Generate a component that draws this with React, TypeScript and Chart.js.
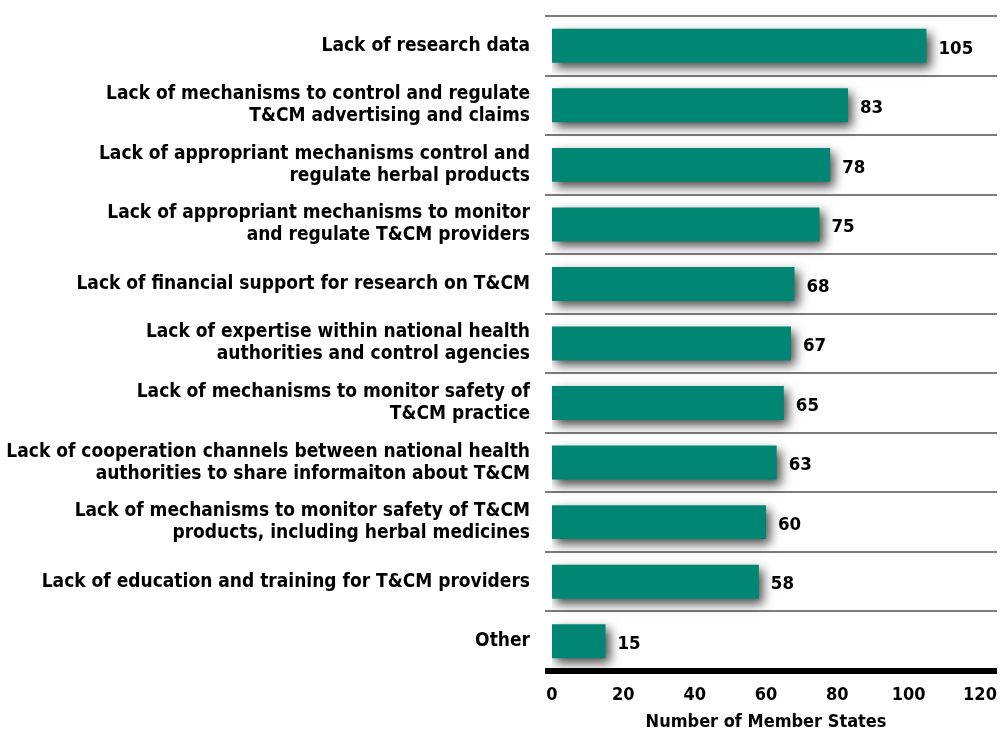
import React, { useEffect, useRef } from "react";
import { Chart, registerables } from "chart.js";

Chart.register(...registerables);

const categories: (string | string[])[] = [
  "Lack of research data",
  ["Lack of mechanisms to control and regulate", "T&CM advertising and claims"],
  ["Lack of appropriant mechanisms control and", "regulate herbal products"],
  ["Lack of appropriant mechanisms to monitor", "and regulate T&CM providers"],
  "Lack of financial support for research on T&CM",
  ["Lack of expertise within national health", "authorities and control agencies"],
  ["Lack of mechanisms to monitor safety of", "T&CM practice"],
  ["Lack of cooperation channels between national health", "authorities to share informaiton about T&CM"],
  ["Lack of mechanisms to monitor safety of T&CM", "products, including herbal medicines"],
  "Lack of education and training for T&CM providers",
  "Other",
];

const memberStates: number[] = [105, 83, 78, 75, 68, 67, 65, 63, 60, 58, 15];

const xTickMin = 0;
const xTickMax = 120;
const xTickStep = 20;

const axisTitle = "Number of Member States";

const FONT = "'Liberation Sans Narrow', 'DejaVu Sans Condensed', 'Liberation Sans', sans-serif";
const BAR_COLOR = "#008673";

function zeroPadding(scale: any) {
  scale.paddingLeft = 0;
  scale.paddingRight = 0;
  scale.paddingTop = 0;
  scale.paddingBottom = 0;
}

const decorPlugin = {
  id: "decor",
  beforeDatasetsDraw(chart: any) {
    const { ctx, chartArea, scales } = chart;
    const y = scales.y;
    const n = chart.data.labels.length;
    const step = n > 1 ? y.getPixelForValue(1) - y.getPixelForValue(0) : chartArea.bottom - chartArea.top;
    ctx.save();
    ctx.strokeStyle = "#7c7c7c";
    ctx.lineWidth = 2;
    for (let i = 0; i < n; i++) {
      const yy = Math.round(y.getPixelForValue(i) - step / 2);
      ctx.beginPath();
      ctx.moveTo(chartArea.left - 7, yy);
      ctx.lineTo(chartArea.right + 17, yy);
      ctx.stroke();
    }
    ctx.restore();
  },
  beforeDatasetDraw(chart: any) {
    const ctx = chart.ctx;
    ctx.save();
    ctx.shadowColor = "rgba(0,0,0,0.7)";
    ctx.shadowBlur = 10;
    ctx.shadowOffsetX = 4;
    ctx.shadowOffsetY = 5;
  },
  afterDatasetDraw(chart: any) {
    chart.ctx.restore();
  },
  afterDatasetsDraw(chart: any) {
    const { ctx, chartArea } = chart;
    ctx.save();
    ctx.fillStyle = "#000";
    ctx.fillRect(chartArea.left - 7, chartArea.bottom - 3, chartArea.right + 17 - (chartArea.left - 7), 6);
    const meta = chart.getDatasetMeta(0);
    const data = chart.data.datasets[0].data;
    ctx.font = `bold 18.5px ${FONT}`;
    ctx.textAlign = "left";
    ctx.textBaseline = "middle";
    meta.data.forEach((bar: any, i: number) => {
      ctx.fillText(String(data[i]), bar.x + 12, bar.y + 3);
    });
    ctx.restore();
  },
};

export default function App() {
  const canvasRef = useRef<HTMLCanvasElement | null>(null);

  useEffect(() => {
    if (!canvasRef.current) return;
    const chart = new Chart(canvasRef.current, {
      type: "bar",
      data: {
        labels: categories,
        datasets: [
          {
            data: memberStates,
            backgroundColor: BAR_COLOR,
            borderWidth: 0,
            categoryPercentage: 1,
            barPercentage: 0.57,
          },
        ],
      },
      options: {
        indexAxis: "y",
        responsive: false,
        animation: false,
        layout: { padding: { top: 16, right: 20, left: 0, bottom: 0 } },
        plugins: {
          legend: { display: false },
          tooltip: { enabled: false },
        },
        scales: {
          x: {
            min: xTickMin,
            max: xTickMax,
            grid: { display: false, drawTicks: false },
            border: { display: false },
            ticks: {
              stepSize: xTickStep,
              color: "#000",
              padding: 14,
              maxRotation: 0,
              font: { family: FONT, size: 18, weight: "bold" },
            },
            title: {
              display: true,
              text: axisTitle,
              color: "#000",
              font: { family: FONT, size: 18, weight: "bold" },
              padding: { top: 0, bottom: 5 },
            },
            afterFit(scale: any) {
              scale.height = 67;
              zeroPadding(scale);
            },
          },
          y: {
            grid: { display: false, drawTicks: false },
            border: { display: false },
            ticks: {
              color: "#000",
              padding: 22,
              font: { family: FONT, size: 19, weight: "bold", lineHeight: 1.16 },
            },
            afterFit(scale: any) {
              scale.width = 552;
              zeroPadding(scale);
            },
          },
        },
      },
      plugins: [decorPlugin],
    });
    return () => chart.destroy();
  }, []);

  return (
    <div style={{ position: "absolute", left: 0, top: 0, width: 1000, height: 738, background: "#fff" }}>
      <canvas ref={canvasRef} width={1000} height={738} />
    </div>
  );
}
